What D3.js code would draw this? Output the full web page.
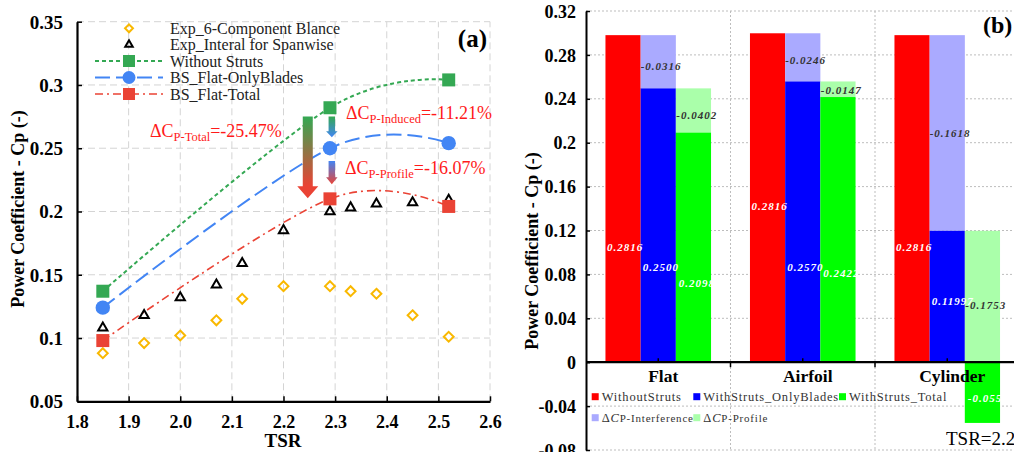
<!DOCTYPE html>
<html><head><meta charset="utf-8">
<script src="https://cdn.jsdelivr.net/npm/d3@7"></script>
<style>
body{margin:0;background:#fff;}
svg{display:block;font-family:"Liberation Serif","Times New Roman",serif;}
</style></head><body>
<svg id="c" width="1014" height="452"></svg>
<script>
// ---------- Panel (a) data ----------
const tsrExp = [1.85, 1.93, 2.0, 2.07, 2.12, 2.2, 2.29, 2.33, 2.38, 2.45, 2.52];
const cpBalance = [0.088, 0.096, 0.102, 0.114, 0.131, 0.141, 0.141, 0.137, 0.135, 0.118, 0.101];
const cpSpanwise = [0.108, 0.118, 0.132, 0.142, 0.159, 0.185, 0.200, 0.203, 0.206, 0.207, 0.209];
const tsrSim = [1.85, 2.29, 2.52];
const cpWithout = [0.137, 0.282, 0.304];
const cpOnlyBlades = [0.124, 0.250, 0.254];
const cpTotal = [0.098, 0.210, 0.204];
const xTicksL = [1.8, 1.9, 2.0, 2.1, 2.2, 2.3, 2.4, 2.5, 2.6];
const xTickLabelsL = ["1.8", "1.9", "2.0", "2.1", "2.2", "2.3", "2.4", "2.5", "2.6"];
const yTicksL = [0.05, 0.1, 0.15, 0.2, 0.25, 0.3, 0.35];
const yTickLabelsL = ["0.05", "0.1", "0.15", "0.2", "0.25", "0.3", "0.35"];
const legendL = ["Exp_6-Component Blance", "Exp_Interal for Spanwise", "Without Struts", "BS_Flat-OnlyBlades", "BS_Flat-Total"];

// ---------- Panel (b) data ----------
const strutTypes = ["Flat", "Airfoil", "Cylinder"];
const barWithout = [0.298, 0.2997, 0.298];
const barOnlyBlades = [0.2495, 0.2558, 0.1197];
const barTotal = [0.2092, 0.2416, -0.0553];
const lblWithout = ["0.2816", "0.2816", "0.2816"];
const lblOnlyBlades = ["0.2500", "0.2570", "0.11997"];
const lblTotal = ["0.2098", "0.2422", "-0.055"];
const lblInterf = ["-0.0316", "-0.0246", "-0.1618"];
const lblProfile = ["-0.0402", "-0.0147", "-0.1753"];
const yTicksR = [-0.08, -0.04, 0, 0.04, 0.08, 0.12, 0.16, 0.2, 0.24, 0.28, 0.32];
const yTickLabelsR = ["-0.08", "-0.04", "0", "0.04", "0.08", "0.12", "0.16", "0.2", "0.24", "0.28", "0.32"];

const svg = d3.select("#c");
const defs = svg.append("defs");

// ================= Panel (a) =================
const xL = d3.scaleLinear().domain([1.8, 2.6]).range([77, 490]);
const yL = d3.scaleLinear().domain([0.05, 0.35]).range([401.3, 21.7]);
const gA = svg.append("g");

// grid
gA.selectAll(".gx").data(xTicksL.slice(1)).join("line")
  .attr("x1", d => xL(d)).attr("x2", d => xL(d)).attr("y1", yL(0.05)).attr("y2", yL(0.35))
  .attr("stroke", "#d4d4d4").attr("stroke-width", 1).attr("stroke-dasharray", "7,4");
gA.selectAll(".gy").data(yTicksL.slice(1)).join("line")
  .attr("x1", xL(1.8)).attr("x2", xL(2.6)).attr("y1", d => yL(d)).attr("y2", d => yL(d))
  .attr("stroke", "#d4d4d4").attr("stroke-width", 1).attr("stroke-dasharray", "7,4");

// axes
const axB = gA.append("g").attr("transform", `translate(0,${yL(0.05)})`)
  .call(d3.axisBottom(xL).tickValues(xTicksL).tickFormat((d, i) => xTickLabelsL[i]).tickSizeInner(-5).tickSizeOuter(0).tickPadding(14));
const axLf = gA.append("g").attr("transform", `translate(${xL(1.8)},0)`)
  .call(d3.axisLeft(yL).tickValues(yTicksL).tickFormat((d, i) => yTickLabelsL[i]).tickSizeInner(-5).tickSizeOuter(0).tickPadding(14));
[axB, axLf].forEach(a => {
  a.select(".domain").attr("stroke", "#000").attr("stroke-width", 2.2);
  a.selectAll(".tick line").attr("stroke", "#000").attr("stroke-width", 1.5);
  a.selectAll("text").attr("font-family", "Liberation Serif").attr("font-weight", "bold").attr("fill", "#000");
});
axB.selectAll("text").attr("font-size", 18);
axLf.selectAll("text").attr("font-size", 19).attr("dy", "0.34em");

// titles
gA.append("text").attr("x", 283).attr("y", 447).attr("text-anchor", "middle")
  .attr("font-weight", "bold").attr("font-size", 19).text("TSR");
gA.append("text").attr("transform", "translate(24,209) rotate(-90)").attr("text-anchor", "middle")
  .attr("font-weight", "bold").attr("font-size", 18).text("Power Coefficient - Cp (-)");
gA.append("text").attr("x", 487).attr("y", 47).attr("text-anchor", "end")
  .attr("font-weight", "bold").attr("font-size", 25).text("(a)");

const cGreen = "#34a853", cBlue = "#4285f4", cRed = "#ea4335", cYellow = "#f9b800";
const line = d3.line().x(d => xL(d[0])).y(d => yL(d[1])).curve(d3.curveCardinal.tension(0));
const sims = [
  {vals: cpWithout, color: cGreen, dash: "4,3", w: 2, marker: "square"},
  {vals: cpOnlyBlades, color: cBlue, dash: "15,6", w: 2, marker: "circle"},
  {vals: cpTotal, color: cRed, dash: "8,4,2,4", w: 1.6, marker: "square"}
];
sims.forEach(s => {
  gA.append("path").datum(tsrSim.map((t, i) => [t, s.vals[i]]))
    .attr("d", line).attr("fill", "none").attr("stroke", s.color)
    .attr("stroke-width", s.w).attr("stroke-dasharray", s.dash);
});

// arrows
function arrowPath(cx, y0, y1, bw, hw, hh) {
  const yh = y1 - hh;
  return `M${cx - bw / 2},${y0}L${cx + bw / 2},${y0}L${cx + bw / 2},${yh}L${cx + hw / 2},${yh}L${cx},${y1}L${cx - hw / 2},${yh}L${cx - bw / 2},${yh}Z`;
}
const arrows = [
  {x: 2.247, from: 0.275, to: 0.2104, c0: cGreen, c1: cRed, bw: 10, hw: 21, hh: 12},
  {x: 2.2936, from: 0.275, to: 0.2586, c0: cGreen, c1: cBlue, bw: 6.5, hw: 11.5, hh: 6},
  {x: 2.2936, from: 0.240, to: 0.2215, c0: cBlue, c1: cRed, bw: 6.5, hw: 11.5, hh: 7}
];
arrows.forEach((a, i) => {
  const id = "ag" + i;
  const lg = defs.append("linearGradient").attr("id", id).attr("gradientUnits", "userSpaceOnUse")
    .attr("x1", 0).attr("x2", 0).attr("y1", yL(a.from)).attr("y2", yL(a.to));
  lg.append("stop").attr("offset", "0%").attr("stop-color", a.c0);
  lg.append("stop").attr("offset", i === 0 ? "85%" : "100%").attr("stop-color", a.c1);
  gA.append("path").attr("d", arrowPath(xL(a.x), yL(a.from), yL(a.to), a.bw, a.hw, a.hh))
    .attr("fill", `url(#${id})`);
});

// markers
gA.selectAll(".dia").data(tsrExp).join("path")
  .attr("d", d3.symbol(d3.symbolDiamond2, 62)())
  .attr("transform", (d, i) => `translate(${xL(d)},${yL(cpBalance[i])})`)
  .attr("fill", "none").attr("stroke", cYellow).attr("stroke-width", 2);
gA.selectAll(".tri").data(tsrExp).join("path")
  .attr("d", d3.symbol(d3.symbolTriangle2, 62)())
  .attr("transform", (d, i) => `translate(${xL(d)},${yL(cpSpanwise[i])})`)
  .attr("fill", "none").attr("stroke", "#000").attr("stroke-width", 2);
sims.forEach(s => {
  tsrSim.forEach((t, i) => {
    const cx = xL(t), cy = yL(s.vals[i]);
    if (s.marker === "square") {
      gA.append("rect").attr("x", cx - 6.5).attr("y", cy - 6.5).attr("width", 13).attr("height", 13).attr("fill", s.color);
    } else {
      gA.append("circle").attr("cx", cx).attr("cy", cy).attr("r", 7.2).attr("fill", s.color);
    }
  });
});

// annotation texts
function deltaText(x, y, sub, rest) {
  const t = gA.append("text").attr("x", x).attr("y", y).attr("fill", "#ff1a1a").attr("font-size", 18);
  t.append("tspan").text("ΔC");
  t.append("tspan").attr("font-size", 12.5).attr("dy", 4).text(sub);
  t.append("tspan").attr("dy", -4).text(rest);
}
deltaText(150, 137, "P-Total", "=-25.47%");
deltaText(346, 119, "P-Induced", "=-11.21%");
deltaText(345, 174, "P-Profile", "=-16.07%");

// legend (a)
const legRows = [28.3, 44.5, 61, 77.5, 94];
const legG = gA.append("g");
legRows.forEach((ry, i) => {
  legG.append("text").attr("x", 170).attr("y", ry + 5.5).attr("font-size", 16).attr("fill", "#222").text(legendL[i]);
});
legG.append("path").attr("d", d3.symbol(d3.symbolDiamond2, 40)()).attr("transform", `translate(129,${legRows[0]})`)
  .attr("fill", "none").attr("stroke", cYellow).attr("stroke-width", 2);
legG.append("path").attr("d", d3.symbol(d3.symbolTriangle2, 40)()).attr("transform", `translate(129,${legRows[1]})`)
  .attr("fill", "none").attr("stroke", "#000").attr("stroke-width", 2);
sims.forEach((s, k) => {
  const ry = legRows[k + 2];
  legG.append("line").attr("x1", 95).attr("x2", 163).attr("y1", ry).attr("y2", ry)
    .attr("stroke", s.color).attr("stroke-width", s.w).attr("stroke-dasharray", s.dash);
  if (s.marker === "square") legG.append("rect").attr("x", 123).attr("y", ry - 6).attr("width", 12).attr("height", 12).attr("fill", s.color);
  else legG.append("circle").attr("cx", 129).attr("cy", ry).attr("r", 6.5).attr("fill", s.color);
});

// ================= Panel (b) =================
const gB = svg.append("g");
const xR = d3.scaleBand().domain(strutTypes).range([586, 1019.5]).padding(0);
const sub = d3.scaleBand().domain(["w", "b", "t"]).range([0, xR.bandwidth()]).paddingInner(0).paddingOuter(0.553);
const yR = d3.scaleLinear().domain([-0.08, 0.32]).range([450, 11]);

// grid
gB.selectAll(".gy").data(yTicksR.filter(d => d !== 0)).join("line")
  .attr("x1", 586).attr("x2", 1014).attr("y1", d => yR(d)).attr("y2", d => yR(d))
  .attr("stroke", "#bdbdbd").attr("stroke-width", 1).attr("stroke-dasharray", "2,2");
gB.selectAll(".gx").data(strutTypes.slice(1)).join("line")
  .attr("x1", d => xR(d)).attr("x2", d => xR(d)).attr("y1", yR(0.32)).attr("y2", yR(-0.08))
  .attr("stroke", "#bdbdbd").attr("stroke-width", 1).attr("stroke-dasharray", "2,2");

const cR = "#ff0000", cB = "#0000ff", cG = "#00ff00", cLB = "#aaaaff", cLG = "#aaffaa";
function bar(x, v0, v1, w, fill) {
  gB.append("rect").attr("x", x).attr("width", w)
    .attr("y", yR(Math.max(v0, v1))).attr("height", Math.abs(yR(v0) - yR(v1))).attr("fill", fill);
}
const bw = sub.bandwidth();
strutTypes.forEach((c, i) => {
  const x0 = xR(c);
  bar(x0 + sub("w"), 0, barWithout[i], bw, cR);
  bar(x0 + sub("b"), barOnlyBlades[i], barWithout[i], bw, cLB);
  bar(x0 + sub("b"), 0, barOnlyBlades[i], bw, cB);
  bar(x0 + sub("t"), barTotal[i], barOnlyBlades[i], bw, cLG);
  bar(x0 + sub("t"), 0, barTotal[i], bw, cG);
});

// data labels (baseline value positions chosen to follow the figure)
const lblLayout = [
  {key: "w", txt: lblWithout, at: [0.1013, 0.139, 0.1013], fill: "#fff", dx: 1.5},
  {key: "b", txt: lblOnlyBlades, at: [0.0829, 0.0829, 0.0519], fill: "#fff", dx: 2},
  {key: "t", txt: lblTotal, at: [0.0687, 0.0778, -0.0367], fill: "#fff", dx: 3},
  {key: "b", txt: lblInterf, at: [0.266, 0.2713, 0.2054], fill: "#333", dx: 0},
  {key: "t", txt: lblProfile, at: [0.222, 0.2448, 0.0489], fill: "#333", dx: 0.5}
];
lblLayout.forEach(L => {
  strutTypes.forEach((c, i) => {
    gB.append("text").attr("x", xR(c) + sub(L.key) + L.dx).attr("y", yR(L.at[i]))
      .attr("font-size", 11).attr("font-style", "italic").attr("font-weight", "bold")
      .attr("letter-spacing", 1).attr("fill", L.fill).text(L.txt[i]);
  });
});

// axes
const axR = gB.append("g").attr("transform", "translate(586,0)")
  .call(d3.axisLeft(yR).tickValues(yTicksR).tickFormat((d, i) => yTickLabelsR[i]).tickSizeInner(-4).tickSizeOuter(0).tickPadding(10));
axR.select(".domain").attr("stroke", "#000").attr("stroke-width", 2);
axR.selectAll(".tick line").attr("stroke", "#000").attr("stroke-width", 1.5);
axR.selectAll("text").attr("font-family", "Liberation Serif").attr("font-weight", "bold")
  .attr("font-size", 18).attr("fill", "#000").attr("dy", "0.34em");
gB.append("line").attr("x1", 586).attr("x2", 1014).attr("y1", yR(0)).attr("y2", yR(0))
  .attr("stroke", "#000").attr("stroke-width", 2.2);
gB.selectAll(".tb").data(strutTypes.slice(1)).join("line")
  .attr("x1", d => xR(d)).attr("x2", d => xR(d)).attr("y1", yR(0)).attr("y2", yR(0) + 5)
  .attr("stroke", "#000").attr("stroke-width", 1.5);
gB.selectAll(".tc").data(strutTypes).join("line")
  .attr("x1", d => xR(d) + xR.bandwidth() / 2).attr("x2", d => xR(d) + xR.bandwidth() / 2)
  .attr("y1", yR(0)).attr("y2", yR(0) - 4).attr("stroke", "#000").attr("stroke-width", 1.5);
gB.selectAll(".cat").data(strutTypes).join("text")
  .attr("x", d => xR(d) + xR.bandwidth() / 2 + 5).attr("y", 381.5).attr("text-anchor", "middle")
  .attr("font-weight", "bold").attr("font-size", 17.5).text(d => d);

gB.append("text").attr("transform", "translate(538,251) rotate(-90)").attr("text-anchor", "middle")
  .attr("font-weight", "bold").attr("font-size", 18).text("Power Coefficient - Cp (-)");
gB.append("text").attr("x", 983).attr("y", 33)
  .attr("font-weight", "bold").attr("font-size", 24).text("(b)");
gB.append("text").attr("x", 946).attr("y", 445).attr("font-size", 19).text("TSR=2.29");

// legend (b)
const legB = [
  {x: 591.7, y: 396.7, c: cR, parts: [["WithoutStruts"]]},
  {x: 693.3, y: 396.7, c: cB, parts: [["WithStruts_OnlyBlades"]]},
  {x: 839, y: 396.7, c: cG, parts: [["WithStruts_Total"]]},
  {x: 591.7, y: 417.7, c: cLB, parts: [["Δ"], ["C", "italic"], ["P-Interference", "small"]]},
  {x: 693.3, y: 417.7, c: cLG, parts: [["Δ"], ["C", "italic"], ["P-Profile", "small"]]}
];
legB.forEach(l => {
  gB.append("rect").attr("x", l.x).attr("y", l.y - 3.5).attr("width", 7).attr("height", 7).attr("fill", l.c);
  const t = gB.append("text").attr("x", l.x + 10).attr("y", l.y + 4).attr("font-size", 12.5)
    .attr("letter-spacing", 0.8).attr("fill", "#333");
  l.parts.forEach(p => {
    const ts = t.append("tspan").text(p[0]);
    if (p[1] === "italic") ts.attr("font-style", "italic");
    if (p[1] === "small") ts.attr("font-size", 11);
  });
});
</script>
</body></html>
